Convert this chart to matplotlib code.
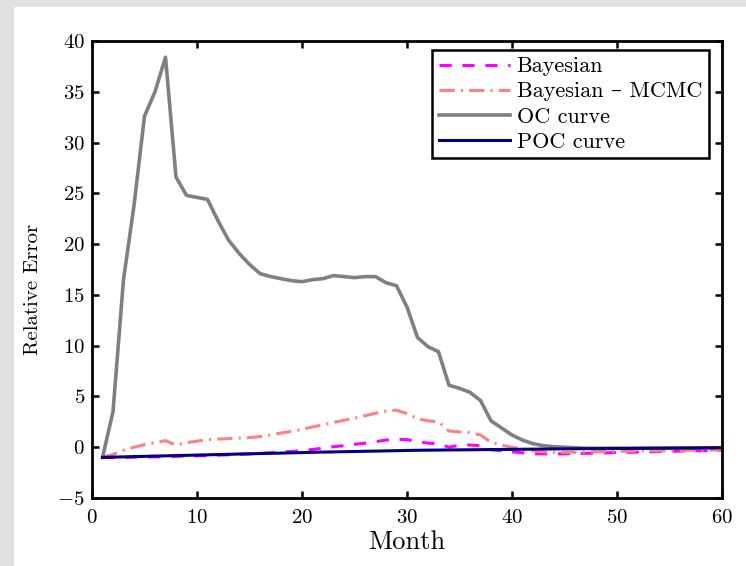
import numpy as np
import matplotlib
matplotlib.use("Agg")
import matplotlib.pyplot as plt
from matplotlib.patches import Rectangle

plt.rcParams['font.family'] = ['cmr10', 'DejaVu Serif']
plt.rcParams['mathtext.fontset'] = 'cm'
plt.rcParams['axes.formatter.use_mathtext'] = True

months = np.arange(1, 61)

bayesian = [-1.0, -1.02, -1.0, -0.98, -0.97, -0.95, -0.93, -0.9, -0.88, -0.85,
            -0.82, -0.78, -0.75, -0.7, -0.66, -0.6, -0.55, -0.48, -0.42, -0.33,
            -0.22, -0.1, 0.05, 0.15, 0.28, 0.4, 0.55, 0.7, 0.78, 0.75,
            0.55, 0.4, 0.35, 0.0, 0.2, 0.22, 0.15, -0.25, -0.35, -0.45,
            -0.55, -0.65, -0.65, -0.65, -0.65, -0.62, -0.6, -0.58, -0.55, -0.52,
            -0.5, -0.48, -0.45, -0.42, -0.4, -0.38, -0.36, -0.35, -0.33, -0.3]

mcmc = [-1.0, -0.7, -0.3, 0.0, 0.25, 0.45, 0.65, 0.2, 0.45, 0.6,
        0.75, 0.8, 0.85, 0.9, 0.95, 1.05, 1.2, 1.4, 1.55, 1.75,
        2.0, 2.2, 2.45, 2.65, 2.85, 3.1, 3.35, 3.55, 3.65, 3.3,
        2.8, 2.6, 2.5, 1.6, 1.5, 1.45, 1.2, 0.5, 0.2, 0.0,
        -0.2, -0.35, -0.45, -0.5, -0.5, -0.5, -0.48, -0.45, -0.42, -0.4,
        -0.38, -0.36, -0.35, -0.34, -0.33, -0.32, -0.3, -0.3, -0.28, -0.25]

oc_curve = [-1.0, 3.5, 16.5, 23.8, 32.6, 35.0, 38.4, 26.6, 24.8, 24.6,
            24.4, 22.3, 20.4, 19.1, 18.0, 17.1, 16.8, 16.6, 16.4, 16.3,
            16.5, 16.6, 16.9, 16.8, 16.7, 16.8, 16.8, 16.2, 15.9, 13.8,
            10.8, 9.9, 9.4, 6.1, 5.8, 5.4, 4.6, 2.6, 1.9, 1.2,
            0.7, 0.35, 0.15, 0.05, 0.0, -0.05, -0.1, -0.1, -0.1, -0.1,
            -0.1, -0.1, -0.09, -0.09, -0.08, -0.08, -0.07, -0.07, -0.06, -0.05]

poc_curve = [-1.0, -0.97, -0.95, -0.92, -0.9, -0.87, -0.85, -0.82, -0.8, -0.77,
             -0.75, -0.72, -0.7, -0.67, -0.65, -0.62, -0.6, -0.58, -0.55, -0.53,
             -0.5, -0.48, -0.46, -0.44, -0.42, -0.4, -0.38, -0.36, -0.34, -0.32,
             -0.3, -0.29, -0.28, -0.27, -0.26, -0.25, -0.24, -0.23, -0.22, -0.21,
             -0.2, -0.19, -0.18, -0.17, -0.16, -0.15, -0.14, -0.14, -0.13, -0.12,
             -0.12, -0.11, -0.1, -0.1, -0.09, -0.08, -0.08, -0.07, -0.06, -0.05]

fig = plt.figure(figsize=(7.46, 5.66), dpi=100, facecolor='#e0e0e0')
# white panel inside the gray frame
fig.patches.append(Rectangle((14 / 746, 0), 1, 1 - 7 / 566, transform=fig.transFigure,
                             facecolor='white', edgecolor='none', zorder=-10))

ax = fig.add_axes([92 / 746, 1 - 498 / 566, 630 / 746, 457 / 566])
ax.set_zorder(1)

ax.plot(months, bayesian, color='#ff00ff', lw=2.2, ls=(0, (4, 3.5)), label='Bayesian')
ax.plot(months, mcmc, color='#ff8080', lw=2.2, ls=(0, (5, 2, 0.7, 2)), label='Bayesian – MCMC')
ax.plot(months, oc_curve, color='#808080', lw=2.6, label='OC curve')
ax.plot(months, poc_curve, color='#000080', lw=2.2, label='POC curve')

ax.set_xlim(0, 60)
ax.set_ylim(-5, 40)
ax.set_xticks(range(0, 61, 10))
ax.set_yticks(range(-5, 41, 5))
ax.tick_params(direction='in', top=True, right=True, length=5, width=1.8,
               labelsize=15)
ax.tick_params(axis='x', pad=8)
ax.tick_params(axis='y', pad=5)
for s in ax.spines.values():
    s.set_linewidth(2)

ax.set_xlabel('Month', fontsize=19, labelpad=2)
ax.set_ylabel('Relative Error', fontsize=15)
ax.yaxis.set_label_coords(-0.079, 0.457)

leg = ax.legend(loc='upper right', bbox_to_anchor=(0.979, 0.980), borderaxespad=0,
                fontsize=16, handlelength=3.2, labelspacing=0.25, borderpad=0.3,
                fancybox=False, framealpha=1, handletextpad=0.3)
leg.get_frame().set_edgecolor('black')
leg.get_frame().set_linewidth(1.8)

fig.savefig('out.png', dpi=100, facecolor=fig.get_facecolor())
